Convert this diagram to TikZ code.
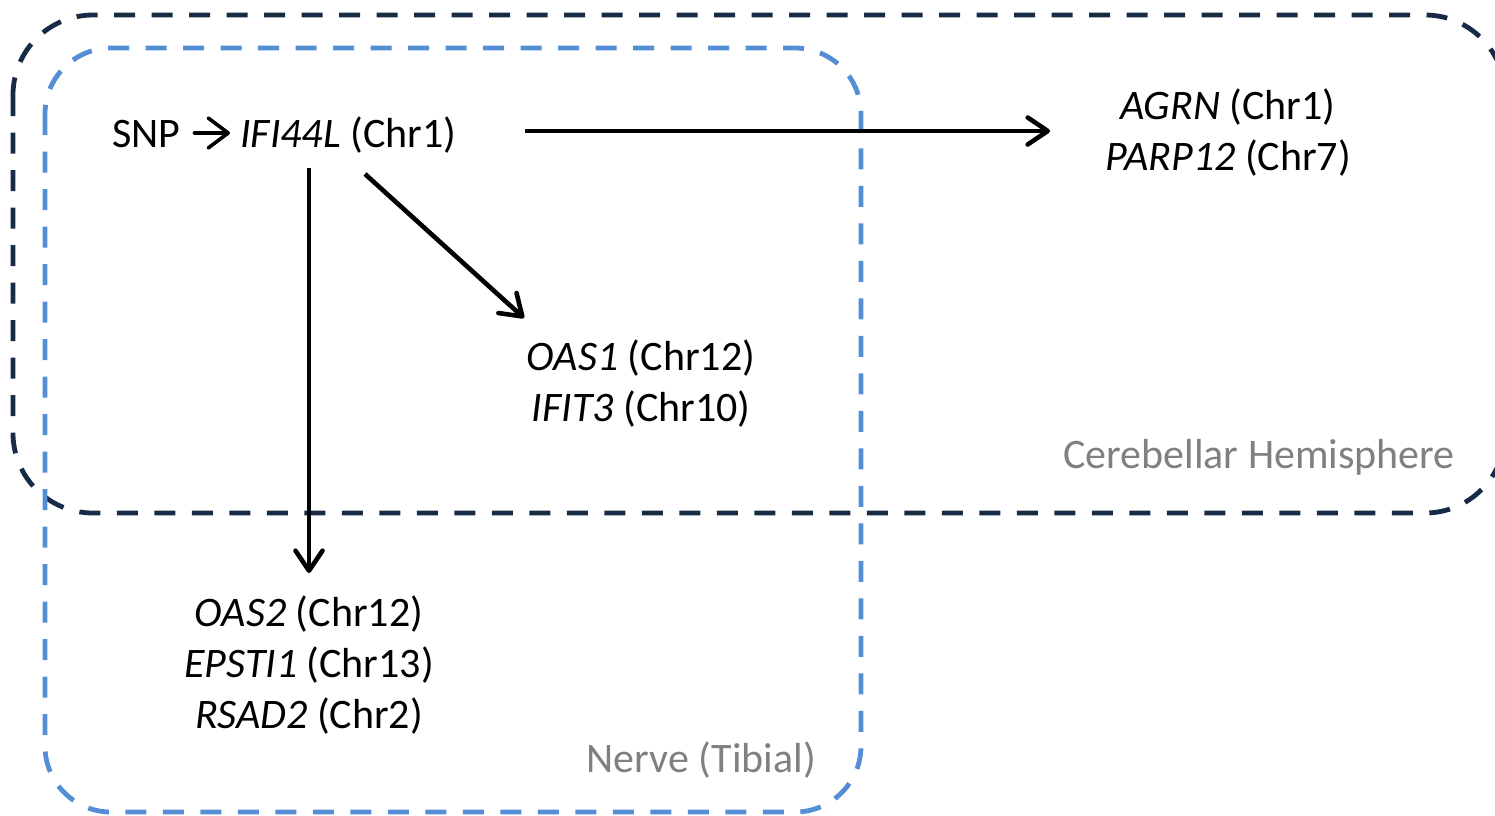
\documentclass[tikz,border=0pt]{standalone}
\usepackage{fontspec}
\setmainfont{Carlito}
\usetikzlibrary{arrows.meta}
\definecolor{darkbox}{RGB}{23,43,70}
\definecolor{bluebox}{RGB}{85,142,213}
\definecolor{labelgray}{RGB}{128,128,128}
\begin{document}
\begin{tikzpicture}[x=1pt,y=-1pt,
  boxline/.style={line width=4.8pt, dash pattern=on 21pt off 16.5pt},
  conn/.style={line width=4.6pt, -{Straight Barb[length=20pt,width=27pt,round]}},
  textarrow/.style={line width=3.6pt, line cap=round, -{Straight Barb[length=20pt,width=30pt,round]}},
  gene/.style={font=\fontsize{42}{51}\selectfont, align=center, inner sep=0pt, anchor=base},
  word/.style={font=\fontsize{42}{51}\selectfont, inner sep=0pt, anchor=base west},
  tissue/.style={font=\fontsize{42}{51}\selectfont, text=labelgray, inner sep=0pt, anchor=base east}]
\useasboundingbox (0,0) rectangle (1495,815);
\clip (0,0) rectangle (1495,815);
\draw[boxline, draw=darkbox, rounded corners=80pt] (13,15) rectangle (1505,513);
\draw[boxline, draw=bluebox, rounded corners=66pt] (45,48) rectangle (861,812);

\node[word] (snp) at (112,147) {SNP};
\node[word] (ifi) at (240,147) {\textit{IFI44L} (Chr1)};
\draw[textarrow] ([shift={(14,-14)}]snp.base east) -- ([shift={(-10,-14)}]ifi.base west);

\node[gene] (cer) at (1228,170) {\textit{AGRN} (Chr1)\\\textit{PARP12} (Chr7)};
\node[gene] (both) at (641,421) {\textit{OAS1} (Chr12)\\\textit{IFIT3} (Chr10)};
\node[gene] (nerve) at (309,728) {\textit{OAS2} (Chr12)\\\textit{EPSTI1} (Chr13)\\\textit{RSAD2} (Chr2)};
\node[tissue] (cerlab) at (1455,468) {Cerebellar Hemisphere};
\node[tissue] (nervelab) at (816,772) {Nerve (Tibial)};

\coordinate (hs) at (525,131);
\coordinate (he) at (1050,131);
\coordinate (vs) at (309,168);
\coordinate (ve) at (309,573);
\coordinate (ds) at (365,174);
\coordinate (de) at (524,318);
\draw[conn] (hs) -- (he);
\draw[conn] (vs) -- (ve);
\draw[conn] (ds) -- (de);
\end{tikzpicture}
\end{document}
